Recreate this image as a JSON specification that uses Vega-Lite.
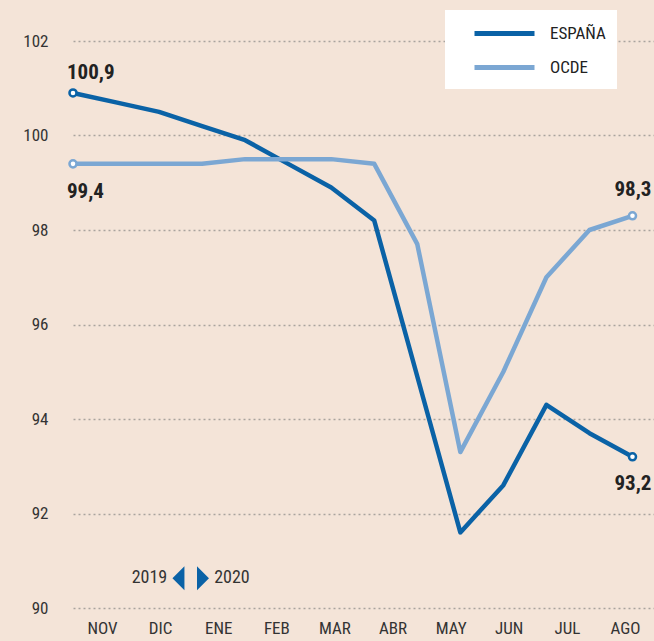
{
  "$schema": "https://vega.github.io/schema/vega-lite/v6.json",
  "width": 581,
  "height": 567,
  "autosize": {"type": "none"},
  "padding": {"left": 73, "top": 41, "right": 0, "bottom": 33},
  "background": "#f4e4d8",
  "config": {
    "view": {"stroke": null},
    "font": "Liberation Sans Narrow, Roboto Condensed, Roboto, sans-serif",
    "locale": {"number": {"decimal": ",", "thousands": ".", "grouping": [3], "currency": ["", " €"]}}
  },
  "datasets": {
    "series": [
      {"series": "ESPAÑA", "idx": 0, "value": 100.9},
      {"series": "ESPAÑA", "idx": 1, "value": 100.7},
      {"series": "ESPAÑA", "idx": 2, "value": 100.5},
      {"series": "ESPAÑA", "idx": 3, "value": 100.2},
      {"series": "ESPAÑA", "idx": 4, "value": 99.9},
      {"series": "ESPAÑA", "idx": 5, "value": 99.4},
      {"series": "ESPAÑA", "idx": 6, "value": 98.9},
      {"series": "ESPAÑA", "idx": 7, "value": 98.2},
      {"series": "ESPAÑA", "idx": 8, "value": 94.9},
      {"series": "ESPAÑA", "idx": 9, "value": 91.6},
      {"series": "ESPAÑA", "idx": 10, "value": 92.6},
      {"series": "ESPAÑA", "idx": 11, "value": 94.3},
      {"series": "ESPAÑA", "idx": 12, "value": 93.7},
      {"series": "ESPAÑA", "idx": 13, "value": 93.2},
      {"series": "OCDE", "idx": 0, "value": 99.4},
      {"series": "OCDE", "idx": 1, "value": 99.4},
      {"series": "OCDE", "idx": 2, "value": 99.4},
      {"series": "OCDE", "idx": 3, "value": 99.4},
      {"series": "OCDE", "idx": 4, "value": 99.5},
      {"series": "OCDE", "idx": 5, "value": 99.5},
      {"series": "OCDE", "idx": 6, "value": 99.5},
      {"series": "OCDE", "idx": 7, "value": 99.4},
      {"series": "OCDE", "idx": 8, "value": 97.7},
      {"series": "OCDE", "idx": 9, "value": 93.3},
      {"series": "OCDE", "idx": 10, "value": 95.0},
      {"series": "OCDE", "idx": 11, "value": 97.0},
      {"series": "OCDE", "idx": 12, "value": 98.0},
      {"series": "OCDE", "idx": 13, "value": 98.3}
    ],
    "months": [
      {"month": "NOV"}, {"month": "DIC"}, {"month": "ENE"}, {"month": "FEB"}, {"month": "MAR"},
      {"month": "ABR"}, {"month": "MAY"}, {"month": "JUN"}, {"month": "JUL"}, {"month": "AGO"}
    ]
  },
  "layer": [
    {
      "data": {"name": "months"},
      "mark": {"type": "point", "opacity": 0},
      "encoding": {
        "x": {
          "field": "month", "type": "nominal", "sort": null,
          "scale": {"type": "point", "padding": 0.5},
          "axis": {
            "orient": "bottom", "title": null, "domain": false, "ticks": false, "grid": false,
            "labelFontSize": 17, "labelColor": "#333", "labelPadding": 12, "labelAngle": 0
          }
        }
      }
    },
    {
      "data": {"name": "series"},
      "encoding": {
        "x": {"field": "idx", "type": "quantitative", "scale": {"domain": [0, 13.5], "zero": false, "nice": false}, "axis": null},
        "y": {
          "field": "value", "type": "quantitative",
          "scale": {"domain": [90, 102], "zero": false, "nice": false},
          "axis": {
            "title": null, "values": [90, 92, 94, 96, 98, 100, 102], "domain": false, "ticks": false,
            "grid": true, "gridDash": [2, 3], "gridColor": "#a9a39e", "gridWidth": 1.5,
            "labelFontSize": 17, "labelColor": "#333", "labelPadding": 25
          }
        }
      },
      "layer": [
        {
          "mark": {"type": "line", "strokeWidth": 4.5, "strokeJoin": "round", "strokeCap": "round"},
          "encoding": {
            "color": {
              "field": "series", "type": "nominal",
              "scale": {"domain": ["ESPAÑA", "OCDE"], "range": ["#0a62a6", "#7ba7d3"]},
              "legend": {
                "title": null, "orient": "none", "legendX": 372, "legendY": -31,
                "fillColor": "white", "padding": 11, "symbolType": "M-3,0L3,0", "symbolSize": 400,
                "symbolStrokeWidth": 5, "symbolOffset": 36, "labelOffset": 33,
                "labelFontSize": 17, "labelColor": "#222", "rowPadding": 11
              }
            }
          }
        },
        {
          "transform": [{"filter": "datum.idx == 0 || datum.idx == 13"}],
          "mark": {"type": "point", "filled": false, "fill": "white", "fillOpacity": 1, "strokeWidth": 2.5, "size": 50, "opacity": 1},
          "encoding": {
            "stroke": {
              "field": "series", "type": "nominal",
              "scale": {"domain": ["ESPAÑA", "OCDE"], "range": ["#0a62a6", "#7ba7d3"]},
              "legend": null
            }
          }
        },
        {
          "transform": [{"filter": "datum.idx == 0 && datum.series == 'ESPAÑA'"}],
          "mark": {"type": "text", "align": "left", "baseline": "middle", "dx": -6, "dy": -20, "fontSize": 21, "fontWeight": "bold", "color": "#222"},
          "encoding": {"text": {"field": "value", "type": "quantitative", "format": ".1f"}}
        },
        {
          "transform": [{"filter": "datum.idx == 0 && datum.series == 'OCDE'"}],
          "mark": {"type": "text", "align": "left", "baseline": "middle", "dx": -6, "dy": 28, "fontSize": 21, "fontWeight": "bold", "color": "#222"},
          "encoding": {"text": {"field": "value", "type": "quantitative", "format": ".1f"}}
        },
        {
          "transform": [{"filter": "datum.idx == 13 && datum.series == 'OCDE'"}],
          "mark": {"type": "text", "align": "right", "baseline": "middle", "dx": 19, "dy": -26, "fontSize": 21, "fontWeight": "bold", "color": "#222"},
          "encoding": {"text": {"field": "value", "type": "quantitative", "format": ".1f"}}
        },
        {
          "transform": [{"filter": "datum.idx == 13 && datum.series == 'ESPAÑA'"}],
          "mark": {"type": "text", "align": "right", "baseline": "middle", "dx": 19, "dy": 27, "fontSize": 21, "fontWeight": "bold", "color": "#222"},
          "encoding": {"text": {"field": "value", "type": "quantitative", "format": ".1f"}}
        },
        {
          "transform": [{"filter": "datum.idx == 0 && datum.series == 'ESPAÑA'"}],
          "mark": {"type": "text", "text": "2019", "align": "right", "baseline": "middle", "fontSize": 18, "fontWeight": "normal", "color": "#333"},
          "encoding": {"x": {"datum": 2.19}, "y": {"datum": 90.63}}
        },
        {
          "transform": [{"filter": "datum.idx == 0 && datum.series == 'ESPAÑA'"}],
          "mark": {"type": "text", "text": "2020", "align": "left", "baseline": "middle", "fontSize": 18, "fontWeight": "normal", "color": "#333"},
          "encoding": {"x": {"datum": 3.28}, "y": {"datum": 90.63}}
        },
        {
          "transform": [{"filter": "datum.idx == 0 && datum.series == 'ESPAÑA'"}],
          "mark": {"type": "point", "shape": "M0.5,-1L-0.5,0L0.5,1Z", "filled": true, "size": 576, "color": "#0a62a6", "opacity": 1},
          "encoding": {"x": {"datum": 2.45}, "y": {"datum": 90.63}}
        },
        {
          "transform": [{"filter": "datum.idx == 0 && datum.series == 'ESPAÑA'"}],
          "mark": {"type": "point", "shape": "M-0.5,-1L0.5,0L-0.5,1Z", "filled": true, "size": 576, "color": "#0a62a6", "opacity": 1},
          "encoding": {"x": {"datum": 3.02}, "y": {"datum": 90.63}}
        }
      ]
    }
  ],
  "resolve": {"scale": {"x": "independent"}}
}
